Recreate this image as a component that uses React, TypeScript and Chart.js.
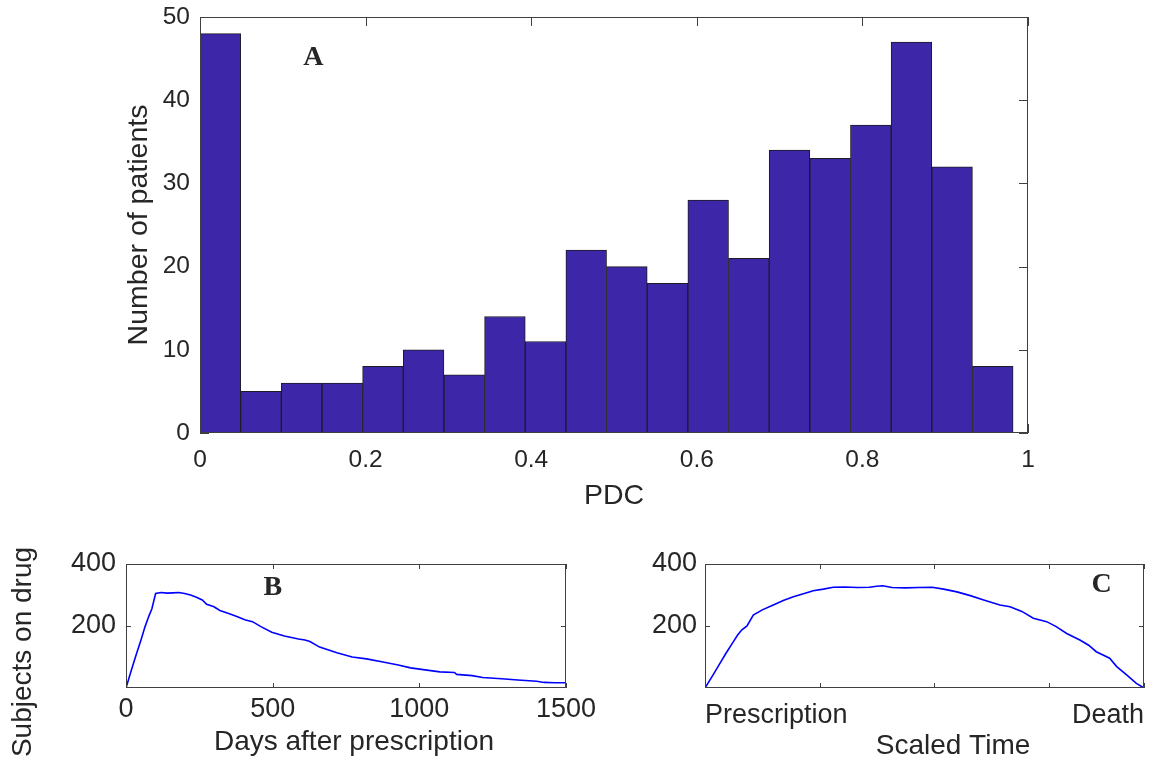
import React, { useEffect, useRef } from 'react';
import { Chart, registerables } from 'chart.js';

Chart.register(...registerables);

// ---------------- Panel A: histogram of PDC ----------------
const pdcBinWidth = 0.0491;
const pdcCounts = [48, 5, 6, 6, 8, 10, 7, 14, 11, 22, 20, 18, 28, 21, 34, 33, 37, 47, 32, 8];
const pdcTicks = [0, 0.2, 0.4, 0.6, 0.8, 1];
const pdcTickLabels = ['0', '0.2', '0.4', '0.6', '0.8', '1'];
const patientTicks = [0, 10, 20, 30, 40, 50];

// ---------------- Panel B: subjects on drug vs days ----------------
const bDays = [0, 12, 24, 36, 50, 65, 78, 88, 101, 120, 140, 160, 180, 200, 220, 240, 260, 275, 300, 320, 350, 380, 405, 431, 460, 497, 540, 588, 610, 627, 660, 719, 771, 820, 876, 928, 970, 1007, 1070, 1120, 1127, 1180, 1216, 1280, 1336, 1400, 1425, 1460, 1500];
const bSubjects = [0, 38, 75, 111, 152, 198, 232, 255, 305, 308, 306, 307, 308, 305, 300, 293, 284, 270, 262, 250, 240, 230, 220, 214, 198, 180, 168, 158, 155, 150, 132, 114, 100, 94, 84, 74, 65, 60, 52, 50, 44, 40, 34, 30, 26, 22, 18, 17, 17];
const bXTicks = [0, 500, 1000, 1500];
const bYTicks = [200, 400];

// ---------------- Panel C: subjects on drug vs scaled time ----------------
const cTime = [0, 0.4, 0.79, 1.1, 1.48, 1.7, 1.92, 2.2, 2.53, 3.0, 3.58, 4.1, 4.63, 5.2, 5.67, 6.2, 6.72, 7.3, 8.0, 8.6, 9.0, 9.3, 9.8, 10.5, 11.2, 11.9, 12.5, 13.2, 13.9, 14.6, 15.45, 15.98, 16.6, 17.2, 17.9, 18.4, 18.95, 19.64, 20.1, 20.5, 21.2, 21.57, 22.09, 22.6, 23];
const cSubjects = [0, 40, 80, 112, 149, 170, 187, 200, 235, 252, 268, 282, 294, 305, 314, 319, 325, 326, 324, 325, 328, 330, 324, 323, 324, 325, 319, 310, 298, 284, 268, 262, 247, 225, 214, 198, 176, 155, 138, 117, 96, 69, 42, 15, 0];
const cXTicks = [0, 6, 12, 18, 23];
const cXTickLabels = ['Prescription', '', '', '', 'Death'];
const cYTicks = [200, 400];

const FONT = "'Liberation Sans', Arial, Helvetica, sans-serif";
const SERIF = "'Liberation Serif', 'Times New Roman', serif";
const TEXT = '#262626';
const AXIS = '#404040';

const matlabAxes: any = {
  id: 'matlabAxes',
  beforeDatasetsDraw(chart: any, _a: any, opts: any) {
    const { ctx, chartArea, scales } = chart;
    const { left, right, top, bottom } = chartArea;
    const len = opts.tickLen ?? 5;
    ctx.save();
    ctx.strokeStyle = AXIS;
    ctx.lineWidth = 1;
    ctx.beginPath();
    scales.x.ticks.forEach((t: any) => {
      const px = Math.round(scales.x.getPixelForValue(t.value)) + 0.5;
      ctx.moveTo(px, bottom);
      ctx.lineTo(px, bottom - len);
      ctx.moveTo(px, top);
      ctx.lineTo(px, top + len);
    });
    scales.y.ticks.forEach((t: any) => {
      const py = Math.round(scales.y.getPixelForValue(t.value)) + 0.5;
      ctx.moveTo(left, py);
      ctx.lineTo(left + len, py);
      ctx.moveTo(right, py);
      ctx.lineTo(right - len, py);
    });
    ctx.stroke();
    ctx.restore();
  },
  afterDatasetsDraw(chart: any, _a: any, opts: any) {
    const { ctx, chartArea, scales } = chart;
    const { left, right, top, bottom } = chartArea;
    ctx.save();
    ctx.strokeStyle = AXIS;
    ctx.lineWidth = 1;
    ctx.strokeRect(Math.round(left) + 0.5, Math.round(top) + 0.5, Math.round(right - left) - 1, Math.round(bottom - top) - 1);
    (opts.texts || []).forEach((t: any) => {
      let x = t.x;
      let y = t.y;
      if (t.data) {
        x = scales.x.getPixelForValue(t.x);
        y = scales.y.getPixelForValue(t.y);
      }
      ctx.save();
      ctx.translate(x, y);
      if (t.rotate) ctx.rotate(t.rotate);
      ctx.font = t.font;
      ctx.fillStyle = TEXT;
      ctx.textAlign = 'center';
      ctx.textBaseline = 'middle';
      ctx.fillText(t.text, 0, 0);
      ctx.restore();
    });
    ctx.restore();
  },
};

function setTicks(values: number[]) {
  return (scale: any) => {
    scale.ticks = values.map((v) => ({ value: v }));
  };
}

function fixSize(prop: 'width' | 'height', size: number) {
  return (s: any) => {
    s[prop] = size;
    s.paddingTop = 0;
    s.paddingBottom = 0;
    s.paddingLeft = 0;
    s.paddingRight = 0;
  };
}

function histConfig(): any {
  return {
    type: 'bar',
    data: {
      datasets: [
        {
          data: pdcCounts.map((c, i) => ({ x: (i + 0.5) * pdcBinWidth, y: c })),
          backgroundColor: '#3d27a8',
          borderColor: '#1c1c24',
          borderWidth: 1,
          borderSkipped: 'start',
          barPercentage: 1,
          categoryPercentage: 1,
        },
      ],
    },
    options: {
      animation: false,
      responsive: false,
      events: [],
      layout: { padding: { left: 120, top: 17, right: 140, bottom: 0 } },
      plugins: {
        legend: { display: false },
        tooltip: { enabled: false },
        matlabAxes: {
          tickLen: 9,
          texts: [{ text: 'A', x: 0.137, y: 45.1, data: true, font: `bold 28px ${SERIF}` }],
        },
      },
      scales: {
        x: {
          type: 'linear',
          min: 0,
          max: 1,
          offset: false,
          afterBuildTicks: setTicks(pdcTicks),
          afterFit: fixSize('height', 87),
          grid: { display: false, drawTicks: false, offset: false },
          border: { display: false },
          ticks: {
            autoSkip: false,
            maxRotation: 0,
            padding: 13,
            color: TEXT,
            font: { family: FONT, size: 24.5 },
            callback: (_v: any, i: number) => pdcTickLabels[i],
          },
          title: {
            display: true,
            text: 'PDC',
            color: TEXT,
            font: { family: FONT, size: 28.5 },
            padding: { top: 0, bottom: 6.5 },
          },
        },
        y: {
          type: 'linear',
          min: 0,
          max: 50,
          afterBuildTicks: setTicks(patientTicks),
          afterFit: fixSize('width', 80),
          grid: { display: false, drawTicks: false },
          border: { display: false },
          ticks: {
            autoSkip: false,
            padding: 10,
            color: TEXT,
            font: { family: FONT, size: 24.5 },
            callback: (v: any) => String(v),
          },
          title: {
            display: true,
            text: 'Number of patients',
            color: TEXT,
            font: { family: FONT, size: 28.5 },
            padding: { top: 2.5, bottom: 0 },
          },
        },
      },
    },
    plugins: [matlabAxes],
  };
}

function lineConfig(p: {
  xs: number[];
  ys: number[];
  xMax: number;
  xTicks: number[];
  xLabels: (v: any, i: number) => string;
  xAlign: string;
  yTicks: number[];
  padding: any;
  yWidth: number;
  xHeight: number;
  yPad: number;
  xPad: number;
  texts: any[];
}): any {
  return {
    type: 'line',
    data: {
      datasets: [
        {
          data: p.xs.map((x, i) => ({ x, y: p.ys[i] })),
          borderColor: '#0000ff',
          borderWidth: 1.6,
          pointRadius: 0,
          tension: 0,
          fill: false,
        },
      ],
    },
    options: {
      animation: false,
      responsive: false,
      events: [],
      layout: { padding: p.padding },
      plugins: {
        legend: { display: false },
        tooltip: { enabled: false },
        matlabAxes: { tickLen: 5, texts: p.texts },
      },
      scales: {
        x: {
          type: 'linear',
          min: 0,
          max: p.xMax,
          afterBuildTicks: setTicks(p.xTicks),
          afterFit: fixSize('height', p.xHeight),
          grid: { display: false, drawTicks: false },
          border: { display: false },
          ticks: {
            autoSkip: false,
            maxRotation: 0,
            align: p.xAlign,
            padding: p.xPad,
            color: TEXT,
            font: { family: FONT, size: 27 },
            callback: p.xLabels,
          },
        },
        y: {
          type: 'linear',
          min: 0,
          max: 400,
          afterBuildTicks: setTicks(p.yTicks),
          afterFit: fixSize('width', p.yWidth),
          grid: { display: false, drawTicks: false },
          border: { display: false },
          ticks: {
            autoSkip: false,
            padding: p.yPad,
            color: TEXT,
            font: { family: FONT, size: 27 },
            callback: (v: any) => String(v),
          },
        },
      },
    },
    plugins: [matlabAxes],
  };
}

function ChartCanvas({ config, left, top, width, height }: any) {
  const ref = useRef<HTMLCanvasElement | null>(null);
  useEffect(() => {
    if (!ref.current) return;
    const chart = new Chart(ref.current, config());
    return () => chart.destroy();
  }, []);
  return (
    <canvas
      ref={ref}
      width={width}
      height={height}
      style={{ position: 'absolute', left, top, width, height, display: 'block' }}
    />
  );
}

const bConfig = () =>
  lineConfig({
    xs: bDays,
    ys: bSubjects,
    xMax: 1500,
    xTicks: bXTicks,
    xLabels: (v: any) => String(v),
    xAlign: 'center',
    yTicks: bYTicks,
    padding: { left: 60, top: 34, right: 34, bottom: 0 },
    yWidth: 66,
    xHeight: 79,
    yPad: 10,
    xPad: 5,
    texts: [
      { text: 'B', x: 501, y: 322, data: true, font: `bold 28px ${SERIF}` },
      { text: 'Days after prescription', x: 354, y: 212, font: `28px ${FONT}` },
      { text: 'Subjects on drug', x: 23, y: 122, rotate: -Math.PI / 2, font: `28px ${FONT}` },
    ],
  });

const cConfig = () =>
  lineConfig({
    xs: cTime,
    ys: cSubjects,
    xMax: 23,
    xTicks: cXTicks,
    xLabels: (_v: any, i: number) => cXTickLabels[i],
    xAlign: 'inner',
    yTicks: cYTicks,
    padding: { left: 40, top: 34, right: 24, bottom: 0 },
    yWidth: 65,
    xHeight: 79,
    yPad: 8,
    xPad: 11,
    texts: [
      { text: 'C', x: 20.78, y: 332, data: true, font: `bold 28px ${SERIF}` },
      { text: 'Scaled Time', x: 353, y: 216, font: `28px ${FONT}` },
    ],
  });

export default function App() {
  return (
    <div style={{ position: 'absolute', left: 0, top: 0, width: 1168, height: 767, background: '#ffffff', overflow: 'hidden' }}>
      <ChartCanvas config={histConfig} left={0} top={0} width={1168} height={520} />
      <ChartCanvas config={bConfig} left={0} top={530} width={600} height={237} />
      <ChartCanvas config={cConfig} left={600} top={530} width={568} height={237} />
    </div>
  );
}
